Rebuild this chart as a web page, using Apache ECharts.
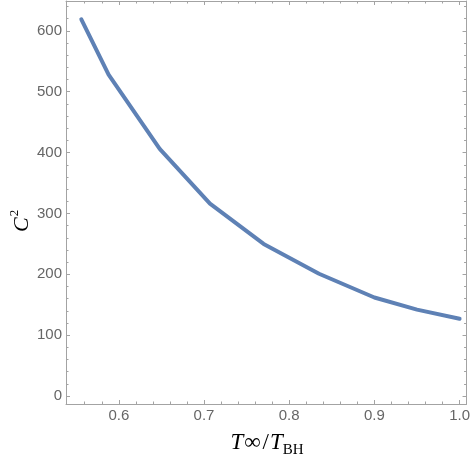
<!DOCTYPE html>
<html>
<head>
<meta charset="utf-8">
<script src="https://cdn.jsdelivr.net/npm/echarts@6/dist/echarts.min.js"></script>
<style>html,body{margin:0;padding:0;background:#fff}#c{width:473px;height:460px}</style>
</head>
<body>
<div id="c"></div>
<script>
// data
const tempRatio = [0.556, 0.588, 0.648, 0.707, 0.770, 0.835, 0.900, 0.950, 1.0];
const cSquared  = [619, 528, 406, 316, 250, 201, 162, 142, 127];
const xMajorTicks = [0.6, 0.7, 0.8, 0.9, 1.0];
const xMinorTicks = [0.56, 0.58, 0.62, 0.64, 0.66, 0.68, 0.72, 0.74, 0.76, 0.78, 0.82, 0.84, 0.86, 0.88, 0.92, 0.94, 0.96, 0.98];
const yMajorTicks = [0, 100, 200, 300, 400, 500, 600];
const yMinorTicks = [20, 40, 60, 80, 120, 140, 160, 180, 220, 240, 260, 280, 320, 340, 360, 380, 420, 440, 460, 480, 520, 540, 560, 580, 620, 640];

const X_MIN = 0.538, X_MAX = 1.0082, Y_MIN = -13, Y_MAX = 649;
const FRAME = '#a3a3a3';
const LABEL = '#666666';

function xAx(pos, ticks, len, labels, line) {
  return {
    type: 'value', position: pos, min: X_MIN, max: X_MAX,
    axisLine: { show: line, onZero: false, lineStyle: { color: FRAME, width: 1 } },
    axisTick: { show: true, inside: true, length: len, customValues: ticks, lineStyle: { color: FRAME, width: 1 } },
    axisLabel: labels ? { show: true, customValues: ticks, margin: 4, color: LABEL, fontSize: 15,
      fontFamily: 'Liberation Sans', formatter: v => v.toFixed(1) } : { show: false },
    splitLine: { show: false }
  };
}
function yAx(pos, ticks, len, labels, line) {
  return {
    type: 'value', position: pos, min: Y_MIN, max: Y_MAX,
    axisLine: { show: line, onZero: false, lineStyle: { color: FRAME, width: 1 } },
    axisTick: { show: true, inside: true, length: len, customValues: ticks, lineStyle: { color: FRAME, width: 1 } },
    axisLabel: labels ? { show: true, customValues: ticks, margin: 4, color: LABEL, fontSize: 15,
      fontFamily: 'Liberation Sans', formatter: v => String(v) } : { show: false },
    splitLine: { show: false }
  };
}

const chart = echarts.init(document.getElementById('c'), null, { renderer: 'canvas' });
chart.setOption({
  animation: false,
  backgroundColor: '#ffffff',
  grid: { left: 66, right: 5, top: 1, bottom: 56, containLabel: false },
  xAxis: [
    xAx('bottom', xMajorTicks, 4, true, true),
    xAx('bottom', xMinorTicks, 2.5, false, false),
    xAx('top', xMajorTicks, 4, false, true),
    xAx('top', xMinorTicks, 2.5, false, false)
  ],
  yAxis: [
    yAx('left', yMajorTicks, 4, true, true),
    yAx('left', yMinorTicks, 2.5, false, false),
    yAx('right', yMajorTicks, 4, false, true),
    yAx('right', yMinorTicks, 2.5, false, false)
  ],
  series: [{
    type: 'line', xAxisIndex: 0, yAxisIndex: 0,
    data: tempRatio.map((t, i) => [t, cSquared[i]]),
    showSymbol: false, symbol: 'none',
    lineStyle: { color: '#5e81b5', width: 4, cap: 'round', join: 'round' },
    smooth: false
  }],
  graphic: [
    {
      type: 'text', x: 267, y: 428,
      style: {
        align: 'center',
        text: '{i|T}{n|∞}{n|/}{i|T}{s|BH}',
        rich: {
          i: { fontFamily: 'Liberation Serif', fontStyle: 'italic', fontSize: 23, fill: '#000', lineHeight: 26, verticalAlign: 'bottom' },
          n: { fontFamily: 'Liberation Serif', fontSize: 23, fill: '#000', lineHeight: 26, verticalAlign: 'bottom', padding: [0, 1, 0, 1] },
          s: { fontFamily: 'Liberation Serif', fontSize: 15, fill: '#000', lineHeight: 15, verticalAlign: 'bottom', padding: [0, 0, -4, 0] }
        }
      }
    },
    {
      type: 'text', x: 8, y: 232, rotation: Math.PI / 2,
      style: {
        text: '{i|C}{p|2}',
        rich: {
          i: { fontFamily: 'Liberation Serif', fontStyle: 'italic', fontSize: 22, fill: '#000', lineHeight: 25, verticalAlign: 'bottom' },
          p: { fontFamily: 'Liberation Serif', fontSize: 13, fill: '#000', lineHeight: 13, verticalAlign: 'top', padding: [0, 0, 0, 1] }
        }
      }
    }
  ]
});
</script>
</body>
</html>
